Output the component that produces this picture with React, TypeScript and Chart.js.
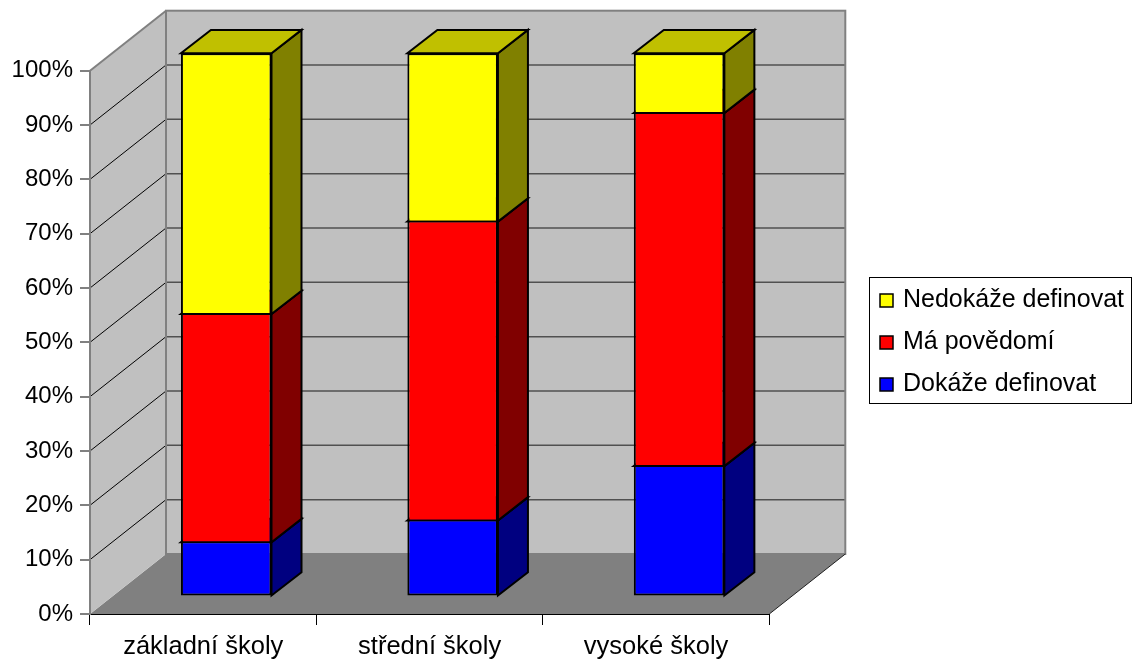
import { useEffect, useRef } from 'react';
import { Chart, registerables } from 'chart.js';

Chart.register(...registerables);

// Categories along the front edge of the floor
const categories = ['základní školy', 'střední školy', 'vysoké školy'];

// Stacked shares in percent (bottom to top)
const dokazeDefinovat = [10, 14, 24];
const maPovedomi = [42, 55, 65];
const nedokazeDefinovat = [48, 31, 11];

const seriesNames = ['Dokáže definovat', 'Má povědomí', 'Nedokáže definovat'];

// Percent axis tick values
const tickValues = [0, 10, 20, 30, 40, 50, 60, 70, 80, 90, 100];

// Face colours for each series: front, right side, top
const frontColors = ['#0000FF', '#FF0000', '#FFFF00'];
const sideColors = ['#000080', '#800000', '#808000'];
const topColors = ['#0000C0', '#C00000', '#C0C000'];

const FONT_FAMILY = '"Liberation Sans", Arial, sans-serif';

// Oblique projection: wall depth, bar front offset and bar depth (pixels)
const WALL_DX = 76;
const WALL_DY = -60;
const BAR_FX = 23;
const BAR_FY = -17.5;
const BAR_DX = 30;
const BAR_DY = -23.3;

function poly(ctx: CanvasRenderingContext2D, pts: number[][]) {
  ctx.beginPath();
  ctx.moveTo(pts[0][0], pts[0][1]);
  for (let i = 1; i < pts.length; i++) ctx.lineTo(pts[i][0], pts[i][1]);
  ctx.closePath();
}

// Floor, side wall, back wall and the 3D gridlines
const wallsPlugin = {
  id: 'walls3d',
  beforeDraw(chart: any) {
    const { ctx, chartArea } = chart;
    const ys = chart.scales.y;
    const L = chartArea.left;
    const R = chartArea.right;
    const T = ys.getPixelForValue(100);
    const B = ys.getPixelForValue(0);
    ctx.save();

    ctx.fillStyle = '#808080';
    poly(ctx, [[L, B], [L + WALL_DX, B + WALL_DY], [R + WALL_DX, B + WALL_DY], [R, B]]);
    ctx.fill();

    ctx.fillStyle = '#C0C0C0';
    poly(ctx, [[L, B], [L, T], [L + WALL_DX, T + WALL_DY], [L + WALL_DX, B + WALL_DY]]);
    ctx.fill();
    ctx.fillRect(L + WALL_DX, T + WALL_DY, R - L, B - T);

    for (const v of tickValues) {
      if (v === 0 || v === 100) continue;
      const y = ys.getPixelForValue(v);
      ctx.strokeStyle = '#000000';
      ctx.lineWidth = 1;
      ctx.beginPath();
      ctx.moveTo(L, y);
      ctx.lineTo(L + WALL_DX, y + WALL_DY);
      ctx.stroke();
      ctx.strokeStyle = '#505050';
      ctx.lineWidth = 1.5;
      ctx.beginPath();
      ctx.moveTo(L + WALL_DX, y + WALL_DY);
      ctx.lineTo(R + WALL_DX, y + WALL_DY);
      ctx.stroke();
    }

    ctx.strokeStyle = '#808080';
    ctx.lineWidth = 2;
    ctx.beginPath();
    ctx.moveTo(L, T);
    ctx.lineTo(L + WALL_DX, T + WALL_DY);
    ctx.stroke();
    ctx.strokeRect(L + WALL_DX, T + WALL_DY, R - L, B - T);

    ctx.strokeStyle = '#202020';
    ctx.lineWidth = 1;
    ctx.beginPath();
    ctx.moveTo(R, B);
    ctx.lineTo(R + WALL_DX, B + WALL_DY);
    ctx.stroke();
    ctx.restore();
  },
};

// Side and top faces of each bar; the front faces are drawn by Chart.js, shifted into depth
const barsPlugin = {
  id: 'bars3d',
  beforeDatasetsDraw(chart: any) {
    const ctx = chart.ctx;
    const n = chart.data.labels.length;
    ctx.save();
    ctx.strokeStyle = '#000000';
    ctx.lineWidth = 2;
    ctx.lineJoin = 'miter';
    for (let j = 0; j < n; j++) {
      for (let i = 0; i < chart.data.datasets.length; i++) {
        const ds = chart.data.datasets[i];
        const el = chart.getDatasetMeta(i).data[j];
        if (!el) continue;
        const { x, y, base, width } = el.getProps(['x', 'y', 'base', 'width'], true);
        if (Math.abs(base - y) < 0.5) continue;
        const xl = x - width / 2 + BAR_FX;
        const xr = x + width / 2 + BAR_FX;
        const yt = Math.min(y, base) + BAR_FY;
        const yb = Math.max(y, base) + BAR_FY;
        ctx.fillStyle = ds.sideColor;
        poly(ctx, [[xr, yb], [xr + BAR_DX, yb + BAR_DY], [xr + BAR_DX, yt + BAR_DY], [xr, yt]]);
        ctx.fill();
        ctx.stroke();
        ctx.fillStyle = ds.topColor;
        poly(ctx, [[xl, yt], [xr, yt], [xr + BAR_DX, yt + BAR_DY], [xl + BAR_DX, yt + BAR_DY]]);
        ctx.fill();
        ctx.stroke();
      }
    }
    ctx.restore();
    ctx.save();
    ctx.translate(BAR_FX, BAR_FY);
  },
  afterDatasetsDraw(chart: any) {
    chart.ctx.restore();
  },
};

// Boxed legend on the right, topmost series first
const legendPlugin = {
  id: 'boxLegend',
  afterDraw(chart: any) {
    const ctx = chart.ctx;
    const boxX = 869.5;
    const boxY = 277.5;
    const boxW = 262;
    const boxH = 126;
    ctx.save();
    ctx.fillStyle = '#FFFFFF';
    ctx.fillRect(boxX, boxY, boxW, boxH);
    ctx.strokeStyle = '#000000';
    ctx.lineWidth = 1;
    ctx.strokeRect(boxX, boxY, boxW, boxH);
    const items = chart.data.datasets.map((d: any) => d).reverse();
    ctx.font = `25px ${FONT_FAMILY}`;
    ctx.textBaseline = 'alphabetic';
    ctx.textAlign = 'left';
    items.forEach((d: any, k: number) => {
      const baseY = 307 + k * 42;
      const cy = baseY - 6.5;
      ctx.fillStyle = d.backgroundColor;
      ctx.fillRect(880, cy - 6.5, 13, 13);
      ctx.lineWidth = 1.5;
      ctx.strokeStyle = '#000000';
      ctx.strokeRect(880, cy - 6.5, 13, 13);
      ctx.fillStyle = '#000000';
      ctx.fillText(d.label, 903, baseY);
    });
    ctx.restore();
  },
};

// Border widths per stack position so that shared edges stay 2px wide
function borderFor(i: number, count: number) {
  return {
    left: 2,
    right: 2,
    top: i === count - 1 ? 2 : 1,
    bottom: i === 0 ? 2 : 1,
  };
}

export default function App() {
  const canvasRef = useRef<HTMLCanvasElement | null>(null);

  useEffect(() => {
    const canvas = canvasRef.current;
    if (!canvas) return;
    const seriesValues = [dokazeDefinovat, maPovedomi, nedokazeDefinovat];
    const chart = new Chart(canvas, {
      type: 'bar',
      data: {
        labels: categories,
        datasets: seriesValues.map((vals, i) => ({
          label: seriesNames[i],
          data: vals,
          backgroundColor: frontColors[i],
          borderColor: '#000000',
          borderWidth: borderFor(i, seriesValues.length),
          borderSkipped: false,
          sideColor: sideColors[i],
          topColor: topColors[i],
          barPercentage: 0.4,
          categoryPercentage: 1,
          clip: false,
        })) as any,
      },
      options: {
        responsive: false,
        animation: false,
        devicePixelRatio: 1,
        events: [],
        layout: { padding: { top: 70.7, right: 370.7, bottom: 0, left: 0 } },
        plugins: {
          legend: { display: false },
          tooltip: { enabled: false },
        },
        scales: {
          x: {
            stacked: true,
            offset: true,
            grid: {
              offset: true,
              drawOnChartArea: false,
              drawTicks: true,
              tickLength: 11,
              color: '#000000',
              lineWidth: 1,
            },
            border: { color: '#000000', width: 1 },
            ticks: {
              color: '#000000',
              padding: 7,
              maxRotation: 0,
              autoSkip: false,
              font: { family: FONT_FAMILY, size: 25.5 },
            },
            afterFit: (s: any) => {
              s.height = 46;
            },
          },
          y: {
            stacked: true,
            min: 0,
            max: 100,
            afterBuildTicks: (s: any) => {
              s.ticks = tickValues.map((v) => ({ value: v }));
            },
            grid: {
              drawOnChartArea: false,
              drawTicks: true,
              tickLength: 10,
              color: '#808080',
              lineWidth: 2,
            },
            border: { color: '#808080', width: 2 },
            ticks: {
              color: '#000000',
              padding: 7,
              callback: (v: any) => `${v}%`,
              font: { family: FONT_FAMILY, size: 24 },
            },
            afterFit: (s: any) => {
              s.width = 90;
            },
          },
        },
      },
      plugins: [wallsPlugin, barsPlugin, legendPlugin],
    });
    return () => chart.destroy();
  }, []);

  return (
    <div style={{ position: 'fixed', left: 0, top: 0, width: 1140, height: 660, background: '#FFFFFF' }}>
      <canvas ref={canvasRef} width={1140} height={660} style={{ display: 'block' }} />
    </div>
  );
}
